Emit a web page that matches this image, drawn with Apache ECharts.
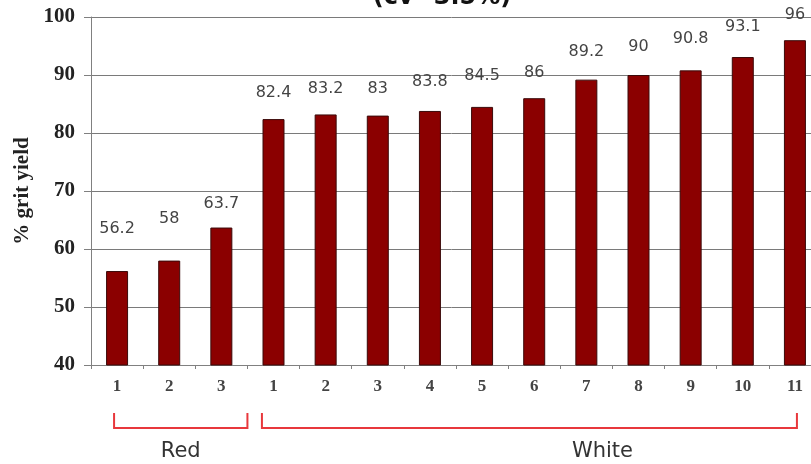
<!DOCTYPE html>
<html>
<head>
<meta charset="utf-8">
<script src="https://cdn.jsdelivr.net/npm/echarts@6/dist/echarts.min.js"></script>
<style>
html,body{margin:0;padding:0;background:#fff;}
#c{width:811px;height:464px;}
</style>
</head>
<body>
<div id="c"></div>
<script>
// ---- data ----
var categories = ['1','2','3','1','2','3','4','5','6','7','8','9','10','11'];
var groups = ['Red','Red','Red','White','White','White','White','White','White','White','White','White','White','White'];
var gritYield = [56.2, 58, 63.7, 82.4, 83.2, 83, 83.8, 84.5, 86, 89.2, 90, 90.8, 93.1, 96];
var valueLabels = ['56.2','58','63.7','82.4','83.2','83','83.8','84.5','86','89.2','90','90.8','93.1','96'];
var yTicks = [40, 50, 60, 70, 80, 90, 100];
var titleText = '(cv=3.5%)';
var yName = '% grit yield';

// ---- style (per-bar label gap above bar, px) ----
var labelGap = [34, 34, 16, 18, 18, 19, 21, 23, 17, 20, 20, 24, 22, 17];

var chart = echarts.init(document.getElementById('c'));
var serif = '"Liberation Serif", "Times New Roman", serif';
var sans = '"DejaVu Sans", Verdana, sans-serif';

var seriesData = gritYield.map(function (v, i) {
  return { value: v, label: { distance: labelGap[i], formatter: valueLabels[i] } };
});

chart.setOption({
  animation: false,
  backgroundColor: '#ffffff',
  title: {
    text: titleText,
    left: 437, textAlign: 'center', top: -19,
    textStyle: { fontFamily: sans, fontWeight: 'bold', fontSize: 24, color: '#111' }
  },
  grid: { left: 91, width: 730, top: 17, height: 348, containLabel: false, outerBoundsMode: 'none' },
  xAxis: {
    type: 'category',
    data: categories,
    boundaryGap: true,
    axisLine: { lineStyle: { color: '#808080', width: 1 } },
    axisTick: { show: true, alignWithLabel: false, length: 4, lineStyle: { color: '#808080' } },
    axisLabel: { interval: 0, margin: 13, fontFamily: serif, fontWeight: 'bold', fontSize: 17, color: '#444' }
  },
  yAxis: {
    type: 'value',
    min: yTicks[0], max: yTicks[yTicks.length - 1], interval: 10,
    name: yName, nameLocation: 'middle', nameRotate: 90, nameGap: 54,
    nameTextStyle: { fontFamily: serif, fontWeight: 'bold', fontSize: 21, color: '#222' },
    axisLine: { show: true, lineStyle: { color: '#808080', width: 1 } },
    axisTick: { show: true, length: 7, lineStyle: { color: '#808080' } },
    axisLabel: { margin: 16, fontFamily: serif, fontWeight: 'bold', fontSize: 21, color: '#222' },
    splitLine: { show: true, lineStyle: { color: '#7a7a7a', width: 1 } }
  },
  series: [{
    type: 'bar',
    data: seriesData,
    barWidth: 22,
    itemStyle: { color: '#8B0000', borderColor: '#3a0a0a', borderWidth: 1 },
    label: { show: true, position: 'top', fontFamily: sans, fontSize: 16, color: '#444' }
  }]
});

// ---- group brackets computed from axis positions ----
function cx(i) { return chart.convertToPixel({ xAxisIndex: 0 }, i); }
var step = cx(1) - cx(0);
var yTop = 413, yBot = 428, red = '#e8383c';
function bracket(x1, x2) {
  return {
    type: 'polyline', silent: true,
    shape: { points: [[x1, yTop], [x1, yBot], [x2, yBot], [x2, yTop]] },
    style: { stroke: red, lineWidth: 2, fill: null }
  };
}
var firstWhite = groups.indexOf('White');
var lastIdx = groups.length - 1;
var redL = cx(0) - 3, redR = cx(firstWhite) - step / 2;
var whiteL = cx(firstWhite) - step / 2 + 14.5, whiteR = cx(lastIdx) + 2;
chart.setOption({
  graphic: [
    bracket(redL, redR),
    bracket(whiteL, whiteR),
    { type: 'text', silent: true, x: (redL + redR) / 2, y: 452,
      style: { text: 'Red', fontFamily: sans, fontSize: 21, fill: '#333', align: 'center', verticalAlign: 'middle' } },
    { type: 'text', silent: true, x: (cx(9) + cx(10)) / 2 - 10, y: 452,
      style: { text: 'White', fontFamily: sans, fontSize: 21, fill: '#333', align: 'center', verticalAlign: 'middle' } }
  ]
});
</script>
</body>
</html>
